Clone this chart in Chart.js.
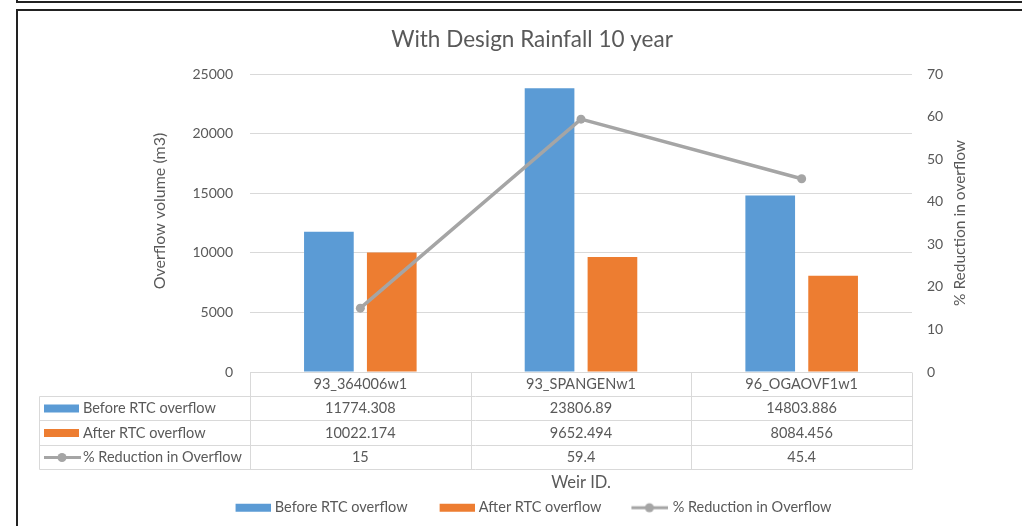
<!DOCTYPE html>
<html>
<head>
<meta charset="utf-8">
<title>With Design Rainfall 10 year</title>
<script src="https://cdn.jsdelivr.net/npm/chart.js@4.4.0/dist/chart.umd.min.js"></script>
<style>
  html, body { margin: 0; padding: 0; background: #fff; overflow: hidden; }
  body { width: 1022px; height: 526px; position: relative; }
  .frame-above { position: absolute; left: 16px; top: -10px; width: 1020px; height: 11px; border-left: 2px solid #222; border-bottom: 2px solid #222; }
  .frame { position: absolute; left: 16px; top: 9px; width: 1020px; height: 530px; border-left: 2px solid #222; border-top: 2px solid #222; }
  .chart-box { position: absolute; left: 18px; top: 11px; width: 1004px; height: 515px; }
</style>
</head>
<body>
<div class="frame-above"></div>
<div class="frame"></div>
<div class="chart-box"><canvas id="overflowChart"></canvas></div>
<script>
// overflow per weir, before and after RTC
const categories = ['93_364006w1', '93_SPANGENw1', '96_OGAOVF1w1'];
const beforeRTC = [11774.308, 23806.89, 14803.886];
const afterRTC = [10022.174, 9652.494, 8084.456];
const reduction = [15, 59.4, 45.4];

const seriesNames = ['Before RTC overflow', 'After RTC overflow', '% Reduction in Overflow'];
const volumeTicks = [0, 5000, 10000, 15000, 20000, 25000];
const reductionTicks = [0, 10, 20, 30, 40, 50, 60, 70];

const BLUE = '#5B9BD5';
const ORANGE = '#ED7D31';
const GREY = '#A5A5A5';
const TEXT = '#595959';
const GRID = '#D9D9D9';
const FONT = 'Lato';

Chart.defaults.font.family = FONT;
Chart.defaults.color = TEXT;

// little series key: coloured bar or line with a dot
function drawKey(ctx, i, x, y) {
  ctx.save();
  if (i < 2) {
    ctx.fillStyle = i === 0 ? BLUE : ORANGE;
    ctx.fillRect(x, y - 4, 35, 8);
  } else {
    ctx.strokeStyle = GREY;
    ctx.lineWidth = 3;
    ctx.beginPath();
    ctx.moveTo(x, y);
    ctx.lineTo(x + 37, y);
    ctx.stroke();
    ctx.fillStyle = GREY;
    ctx.beginPath();
    ctx.arc(x + 18, y, 4.5, 0, Math.PI * 2);
    ctx.fill();
  }
  ctx.restore();
}

function keyImage(i) {
  const c = document.createElement('canvas');
  c.width = 41;
  c.height = 12;
  drawKey(c.getContext('2d'), i, i < 2 ? 6 : 4, 6);
  return c;
}
const keyImages = [0, 1, 2].map(keyImage);

// data table under the plot + axis titles
const dataTable = {
  id: 'dataTable',
  afterDraw(chart) {
    const {ctx, chartArea: area, scales: {x}} = chart;
    const half = (area.right - area.left) / categories.length / 2;
    const rowH = 24.2;
    const top = area.bottom;
    const rows = [0, 1, 2, 3, 4].map(r => Math.round(top + r * rowH) + 0.5);
    const tableLeft = 21.5;
    const series = [beforeRTC, afterRTC, reduction];

    ctx.save();
    ctx.strokeStyle = GRID;
    ctx.lineWidth = 1;
    ctx.beginPath();
    for (let r = 1; r < rows.length; r++) {
      ctx.moveTo(tableLeft, rows[r]);
      ctx.lineTo(area.right, rows[r]);
    }
    ctx.moveTo(tableLeft, rows[1]);
    ctx.lineTo(tableLeft, rows[4]);
    for (let i = 0; i <= categories.length; i++) {
      const px = Math.round(x.getPixelForValue(i) - half) + 0.5;
      ctx.moveTo(px, rows[0]);
      ctx.lineTo(px, rows[4]);
    }
    ctx.stroke();

    ctx.fillStyle = TEXT;
    ctx.font = '14.5px ' + FONT;
    ctx.textBaseline = 'middle';
    for (let r = 0; r < 3; r++) {
      const cy = (rows[r + 1] + rows[r + 2]) / 2;
      drawKey(ctx, r, tableLeft + 4.5, cy);
      ctx.textAlign = 'left';
      ctx.fillText(seriesNames[r], tableLeft + 43.5, cy);
      ctx.textAlign = 'center';
      series[r].forEach((v, i) => ctx.fillText(String(v), x.getPixelForValue(i), cy));
    }

    // axis titles
    ctx.textAlign = 'center';
    ctx.font = '16.5px ' + FONT;
    ctx.fillText('Weir ID.', (area.left + area.right) / 2, rows[4] + 13);
    ctx.font = '16px ' + FONT;
    ctx.save();
    ctx.translate(area.left - 90, area.top + 137);
    ctx.rotate(-Math.PI / 2);
    ctx.fillText('Overflow volume (m3)', 0, 0);
    ctx.restore();
    ctx.font = '15.5px ' + FONT;
    ctx.save();
    ctx.translate(area.right + 48, (area.top + area.bottom) / 2);
    ctx.rotate(-Math.PI / 2);
    ctx.fillText('% Reduction in overflow', 0, 0);
    ctx.restore();
    ctx.restore();
  }
};

new Chart(document.getElementById('overflowChart'), {
  data: {
    labels: categories,
    datasets: [
      {type: 'bar', label: seriesNames[0], data: beforeRTC, backgroundColor: BLUE, yAxisID: 'y', order: 1,
        categoryPercentage: 0.57, barPercentage: 0.79},
      {type: 'bar', label: seriesNames[1], data: afterRTC, backgroundColor: ORANGE, yAxisID: 'y', order: 1,
        categoryPercentage: 0.57, barPercentage: 0.79},
      {type: 'line', label: seriesNames[2], data: reduction, yAxisID: 'y1', order: 0,
        borderColor: GREY, borderWidth: 3.5, pointRadius: 4.5, pointBackgroundColor: GREY,
        pointBorderWidth: 0, tension: 0}
    ]
  },
  options: {
    responsive: true,
    maintainAspectRatio: false,
    animation: false,
    layout: {padding: {left: 24, right: 0, top: 0, bottom: 1}},
    plugins: {
      title: {
        display: true,
        text: 'With Design Rainfall 10 year',
        color: TEXT,
        font: {size: 22.5, weight: 'normal'},
        padding: {top: 15.5, bottom: 20.5}
      },
      legend: {
        position: 'bottom',
        labels: {
          usePointStyle: true,
          pointStyleWidth: 35,
          boxHeight: 8,
          padding: 29,
          color: TEXT,
          font: {size: 14.5},
          generateLabels: chart => chart.data.datasets.map((ds, i) => ({
            text: ds.label,
            pointStyle: keyImages[i],
            datasetIndex: i,
            fontColor: TEXT,
            fillStyle: 'transparent',
            strokeStyle: 'transparent',
            lineWidth: 0,
            hidden: false
          }))
        }
      },
      tooltip: {enabled: false}
    },
    scales: {
      x: {
        grid: {display: false, drawTicks: false},
        border: {display: false},
        ticks: {color: TEXT, font: {size: 14.5}, padding: 4, maxRotation: 0, autoSkip: false},
        afterFit: s => { s.height = 99.5; }
      },
      y: {
        position: 'left',
        min: volumeTicks[0],
        max: volumeTicks[volumeTicks.length - 1],
        ticks: {stepSize: volumeTicks[1] - volumeTicks[0], color: TEXT, font: {size: 14}, padding: 17,
          callback: v => String(v)},
        grid: {color: GRID, drawTicks: false},
        border: {display: false},
        afterFit: s => { s.width = 208; }
      },
      y1: {
        position: 'right',
        min: reductionTicks[0],
        max: reductionTicks[reductionTicks.length - 1],
        ticks: {stepSize: reductionTicks[1] - reductionTicks[0], color: TEXT, font: {size: 14}, padding: 15,
          callback: v => String(v)},
        grid: {display: false, drawTicks: false},
        border: {display: false},
        afterFit: s => { s.width = 110; }
      }
    }
  },
  plugins: [dataTable]
});
</script>
</body>
</html>
